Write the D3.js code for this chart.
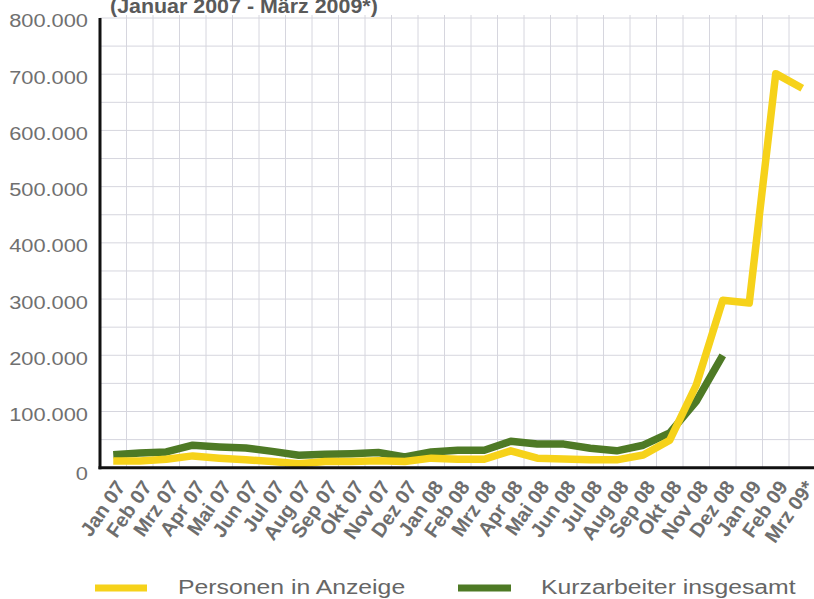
<!DOCTYPE html>
<html lang="de">
<head>
  <meta charset="UTF-8">
  <title>Kurzarbeit</title>
  <script src="https://d3js.org/d3.v7.min.js"></script>
  <style>
    body { margin: 0; background: #fff; }
    text { font-family: "Liberation Sans", Arial, sans-serif; }
  </style>
</head>
<body>
  <div id="root"></div>
  <script>
    const months = ['Jan 07', 'Feb 07', 'Mrz 07', 'Apr 07', 'Mai 07', 'Jun 07', 'Jul 07', 'Aug 07', 'Sep 07',
      'Okt 07', 'Nov 07', 'Dez 07', 'Jan 08', 'Feb 08', 'Mrz 08', 'Apr 08', 'Mai 08', 'Jun 08', 'Jul 08',
      'Aug 08', 'Sep 08', 'Okt 08', 'Nov 08', 'Dez 08', 'Jan 09', 'Feb 09', 'Mrz 09*'];
    // Personen in Anzeige (bis Mrz 09)
    const anzeige = [12000, 12000, 15000, 21000, 17000, 14000, 11000, 7000, 11000, 11000, 12500, 11000,
      17000, 15000, 15000, 30000, 17000, 15500, 14000, 14000, 22500, 49000, 147000, 298000, 293000, 701000, 675000];
    // Kurzarbeiter insgesamt (bis Dez 08)
    const kurzarbeiter = [23000, 26000, 28000, 40000, 37000, 35000, 29000, 22000, 24000, 25000, 27000, 19000,
      28000, 31000, 31000, 47000, 42000, 42000, 34500, 30000, 40000, 62000, 118000, 200000];
    const yTicks = [0, 100000, 200000, 300000, 400000, 500000, 600000, 700000, 800000];
    const legendItems = ['Personen in Anzeige', 'Kurzarbeiter insgesamt'];
    const colors = { anzeige: '#f6d21a', kurz: '#4e7a25' };

    const width = 814, height = 599;
    const sx = 1.18; // source image is stretched horizontally
    const svg = d3.select('#root').append('svg').attr('width', width).attr('height', height);

    const x = d3.scaleBand().domain(months).range([100, 815.5]);
    const y = d3.scaleLinear().domain([0, 800000]).range([467.7, 18]);
    const cx = d => x(d) + x.bandwidth() / 2;

    // grid
    const grid = svg.append('g').attr('stroke', '#d6d6de').attr('stroke-width', 1);
    grid.selectAll('line.h').data(d3.range(50000, 800001, 50000)).enter().append('line')
      .attr('x1', 100).attr('x2', 815.5)
      .attr('y1', d => y(d)).attr('y2', d => y(d));
    grid.selectAll('line.v').data(months.slice(1)).enter().append('line')
      .attr('x1', d => x(d)).attr('x2', d => x(d))
      .attr('y1', y(800000) - 3).attr('y2', y(0));

    // title (cut at top)
    svg.append('text').attr('transform', 'translate(110,12.5) scale(1.02,1)')
      .attr('font-size', 21).attr('font-weight', 'bold').attr('fill', '#5a5a5a')
      .text('(Januar 2007 - März 2009*)');

    // y labels
    svg.append('g').selectAll('text').data(yTicks).enter().append('text')
      .attr('transform', d => `translate(88,${y(d) + (d === 0 ? 6 : 3)}) scale(${sx},1)`)
      .attr('dy', '0.35em').attr('text-anchor', 'end')
      .attr('font-size', 18.5).attr('fill', '#707070')
      .text(d => d === 0 ? '0' : d3.format(',')(d).replace(/,/g, '.'));

    // x labels
    svg.append('g').selectAll('text').data(months).enter().append('text')
      .attr('text-anchor', 'end')
      .attr('transform', d => `translate(${cx(d) + 13},${487}) rotate(-55)`)
      .attr('font-size', 20).attr('font-weight', 'bold').attr('fill', '#6e6e6e')
      .text(d => d);

    // lines
    const line = d3.line().x((d, i) => cx(months[i])).y(d => y(d));
    svg.append('path').datum(kurzarbeiter).attr('d', line)
      .attr('fill', 'none').attr('stroke', colors.kurz).attr('stroke-width', 7.5).attr('stroke-linejoin', 'round');
    svg.append('path').datum(anzeige).attr('d', line)
      .attr('fill', 'none').attr('stroke', colors.anzeige).attr('stroke-width', 7.5).attr('stroke-linejoin', 'round');

    // axes
    svg.append('line').attr('x1', 100).attr('x2', 100).attr('y1', y(800000)).attr('y2', y(0) + 1.5)
      .attr('stroke', '#111').attr('stroke-width', 3);
    svg.append('line').attr('x1', 98.5).attr('x2', 814).attr('y1', y(0)).attr('y2', y(0))
      .attr('stroke', '#111').attr('stroke-width', 3);

    // legend
    const legend = [
      { label: legendItems[0], color: colors.anzeige, x1: 95, x2: 147, tx: 178 },
      { label: legendItems[1], color: colors.kurz, x1: 458, x2: 511, tx: 541 }
    ];
    const lg = svg.append('g').selectAll('g').data(legend).enter().append('g');
    lg.append('line').attr('x1', d => d.x1).attr('x2', d => d.x2).attr('y1', 588).attr('y2', 588)
      .attr('stroke', d => d.color).attr('stroke-width', 7);
    lg.append('text').attr('transform', d => `translate(${d.tx},587) scale(${sx},1)`).attr('dy', '0.35em')
      .attr('font-size', 21).attr('fill', '#666')
      .text(d => d.label);
  </script>
</body>
</html>
